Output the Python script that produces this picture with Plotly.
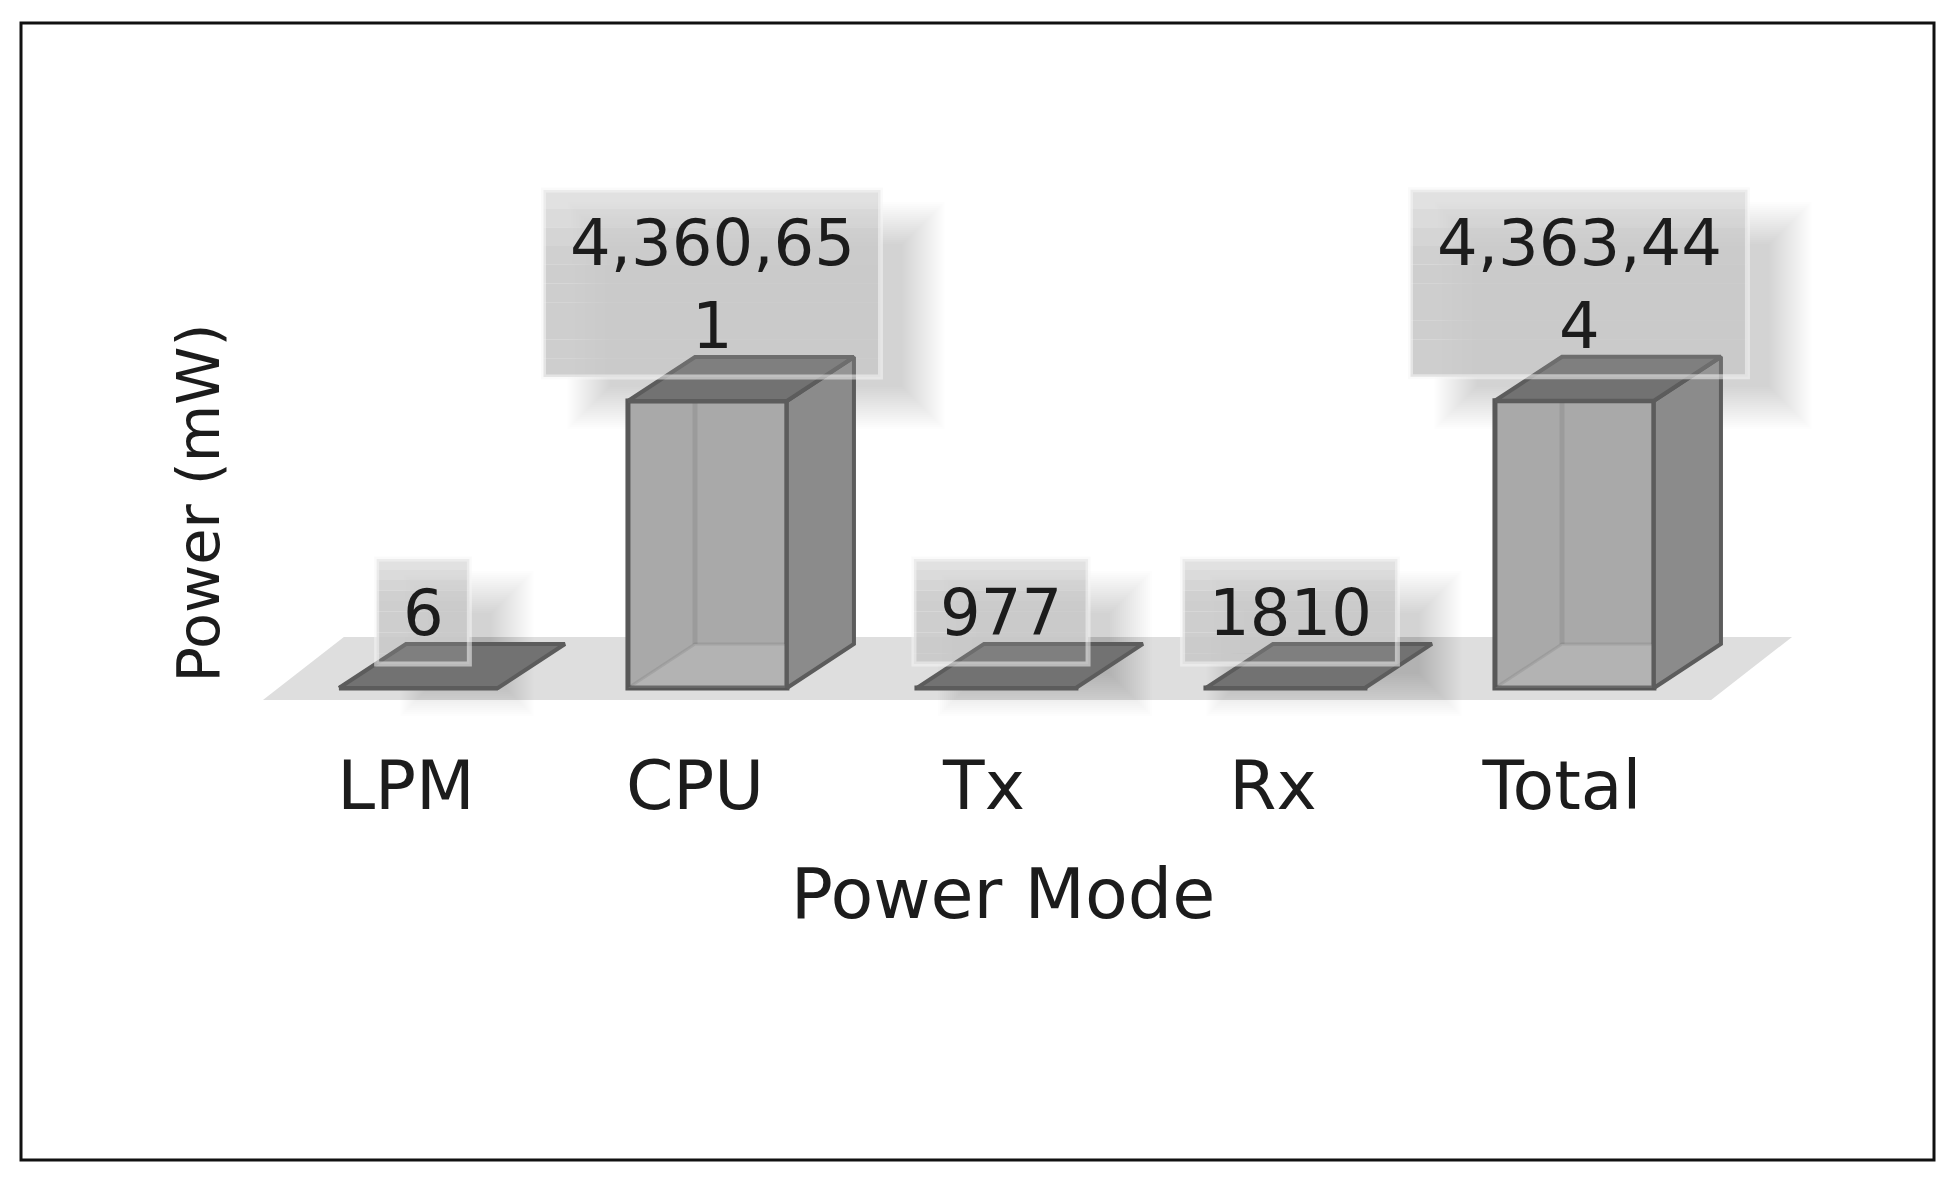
"""Power per mode, drawn as a pseudo-3D glass bar chart."""

import plotly.graph_objects as go

modes = ["LPM", "CPU", "Tx", "Rx", "Total"]
power_mw = [6, 4360651, 977, 1810, 4363444]
value_labels = ["6", "4,360,65<br>1", "977", "1810", "4,363,44<br>4"]

x_title = "Power Mode"
y_title = "Power (mW)"

WIDTH, HEIGHT = 1952, 1186
FONT = "DejaVu Sans"
INK = "#1c1c1c"

# plot area in page pixels
LEFT, RIGHT, TOP, BOTTOM = 240, 1766, 304, 702
X_RANGE = [-0.5744, 4.7059]
Y_RANGE = [-212700, 5834000]

BAR_WIDTH = 0.55
BAR_SHIFT = 0.043  # the bars sit a little right of their tick labels
DEPTH_X = 0.232
DEPTH_PX = 44
y_per_px = (Y_RANGE[1] - Y_RANGE[0]) / (BOTTOM - TOP)
DEPTH_Y = DEPTH_PX * y_per_px


def px_x(x):
    return LEFT + (x - X_RANGE[0]) / (X_RANGE[1] - X_RANGE[0]) * (RIGHT - LEFT)


def px_y(y):
    return BOTTOM - (y - Y_RANGE[0]) / (Y_RANGE[1] - Y_RANGE[0]) * (BOTTOM - TOP)


def paper_x(px):
    return px / WIDTH


def paper_y(px):
    return 1 - px / HEIGHT


def paper_rect(x0, y0, x1, y1, **kw):
    return dict(
        type="rect", xref="paper", yref="paper",
        x0=paper_x(x0), x1=paper_x(x1), y0=paper_y(y1), y1=paper_y(y0), **kw
    )


def text_width(s, size):
    return sum(0.318 if c == "," else 0.636 for c in s) * size


idx = list(range(len(modes)))
fig = go.Figure()

# front faces
fig.add_trace(
    go.Bar(
        x=idx,
        y=power_mw,
        width=BAR_WIDTH,
        offset=BAR_SHIFT - BAR_WIDTH / 2,
        marker=dict(color="#a9a9a9", line=dict(color="#585858", width=5)),
        hoverinfo="skip",
    )
)


def face(xs, ys, fill, line="#5c5c5c", width=4):
    fig.add_trace(
        go.Scatter(
            x=xs + xs[:1],
            y=ys + ys[:1],
            mode="lines",
            fill="toself",
            fillcolor=fill,
            line=dict(color=line, width=width),
            cliponaxis=False,
            hoverinfo="skip",
        )
    )


for i, v in zip(idx, power_mw):
    x0 = i + BAR_SHIFT - BAR_WIDTH / 2
    x1 = x0 + BAR_WIDTH
    # inner floor and hidden back edges, seen through the front face
    if v > DEPTH_Y:
        face(
            [x0, x1, x1 + DEPTH_X, x0 + DEPTH_X],
            [0, 0, DEPTH_Y, DEPTH_Y],
            "rgba(255,255,255,0.12)", "rgba(80,80,80,0.14)", 3,
        )
        fig.add_trace(
            go.Scatter(
                x=[x0 + DEPTH_X, x0 + DEPTH_X],
                y=[DEPTH_Y, v + DEPTH_Y],
                mode="lines",
                line=dict(color="rgba(80,80,80,0.15)", width=5),
                hoverinfo="skip",
            )
        )
        # right side face
        face(
            [x1, x1 + DEPTH_X, x1 + DEPTH_X, x1],
            [0, DEPTH_Y, v + DEPTH_Y, v],
            "#8b8b8b",
        )
    # top face
    face(
        [x0, x1, x1 + DEPTH_X, x0 + DEPTH_X],
        [v, v, v + DEPTH_Y, v + DEPTH_Y],
        "#727272",
    )

shapes = []

# floor slab
fl, fr = -0.495, 4.516
floor_dx = 0.28
floor_front = -12 * y_per_px
floor_back = 51 * y_per_px
corners = [
    (fl, floor_front), (fr, floor_front),
    (fr + floor_dx, floor_back), (fl + floor_dx, floor_back),
]
path = "M " + " L ".join(
    f"{paper_x(px_x(cx)):.5f},{paper_y(px_y(cy)):.5f}" for cx, cy in corners
) + " Z"
shapes.append(
    dict(type="path", xref="paper", yref="paper", path=path,
         fillcolor="#dedede", line=dict(width=0), layer="below")
)

# value label boxes: blurred shadow, gradient body, pale rim
LABEL_SIZE = 64
annotations = []
boxes = []
for i, v, label in zip(idx, power_mw, value_labels):
    lines = label.split("<br>")
    w = max(text_width(s, LABEL_SIZE) for s in lines) + 52
    h = 105 if len(lines) == 1 else 187
    cx = px_x(i) + 17
    bottom = px_y(v) - 24
    boxes.append((cx - w / 2, bottom - h, cx + w / 2, bottom))
    annotations.append(
        dict(
            x=i, y=v, xref="x", yref="y",
            text=label,
            showarrow=False,
            xshift=17, yshift=21,
            yanchor="bottom", valign="middle",
            width=w, height=h,
            font=dict(family=FONT, size=LABEL_SIZE, color=INK),
        )
    )

for x0, y0, x1, y1 in boxes:
    for k in range(22):
        grow = 20 - 2 * k
        shapes.append(
            paper_rect(x0 + 44 - grow, y0 + 32 - grow, x1 + 44 + grow, y1 + 32 + grow,
                       fillcolor="rgba(120,120,120,0.011)", line=dict(width=0), layer="below")
        )
for x0, y0, x1, y1 in boxes:
    bands = 10
    for k in range(bands):
        ya = y0 + (y1 - y0) * k / bands
        yb = y0 + (y1 - y0) * (k + 1) / bands
        alpha = min(0.5 + 0.12 * k, 0.9)
        shapes.append(
            paper_rect(x0, ya, x1, yb, fillcolor=f"rgba(200,200,200,{alpha:.2f})",
                       line=dict(width=0), layer="below")
        )
    shapes.append(
        paper_rect(x0, y0, x1, y1, fillcolor="rgba(215,215,215,0.14)",
                   line=dict(color="rgba(245,245,245,0.55)", width=5), layer="above")
    )

# picture frame
shapes.append(
    paper_rect(21, 23, 1934, 1160, fillcolor="rgba(0,0,0,0)",
               line=dict(color="#111111", width=3), layer="above")
)

fig.update_layout(
    width=WIDTH,
    height=HEIGHT,
    margin=dict(l=0, r=0, t=0, b=0),
    paper_bgcolor="white",
    plot_bgcolor="rgba(0,0,0,0)",
    showlegend=False,
    shapes=shapes,
    annotations=annotations,
    xaxis=dict(
        domain=[LEFT / WIDTH, RIGHT / WIDTH],
        range=X_RANGE,
        tickmode="array",
        tickvals=idx,
        ticktext=modes,
        ticks="outside",
        ticklen=24,
        tickcolor="rgba(0,0,0,0)",
        tickfont=dict(family=FONT, size=68, color=INK),
        showgrid=False,
        zeroline=False,
        showline=False,
        automargin=False,
        title=dict(text=x_title, font=dict(family=FONT, size=70, color=INK), standoff=45),
    ),
    yaxis=dict(
        domain=[1 - BOTTOM / HEIGHT, 1 - TOP / HEIGHT],
        range=Y_RANGE,
        showticklabels=False,
        ticks="",
        showgrid=False,
        zeroline=False,
        showline=False,
        automargin=False,
        title=dict(text=y_title, font=dict(family=FONT, size=59, color=INK), standoff=0),
    ),
)

fig.write_html(
    "out.html",
    config={"displayModeBar": False},
    post_script="document.body.style.margin='0';",
)
